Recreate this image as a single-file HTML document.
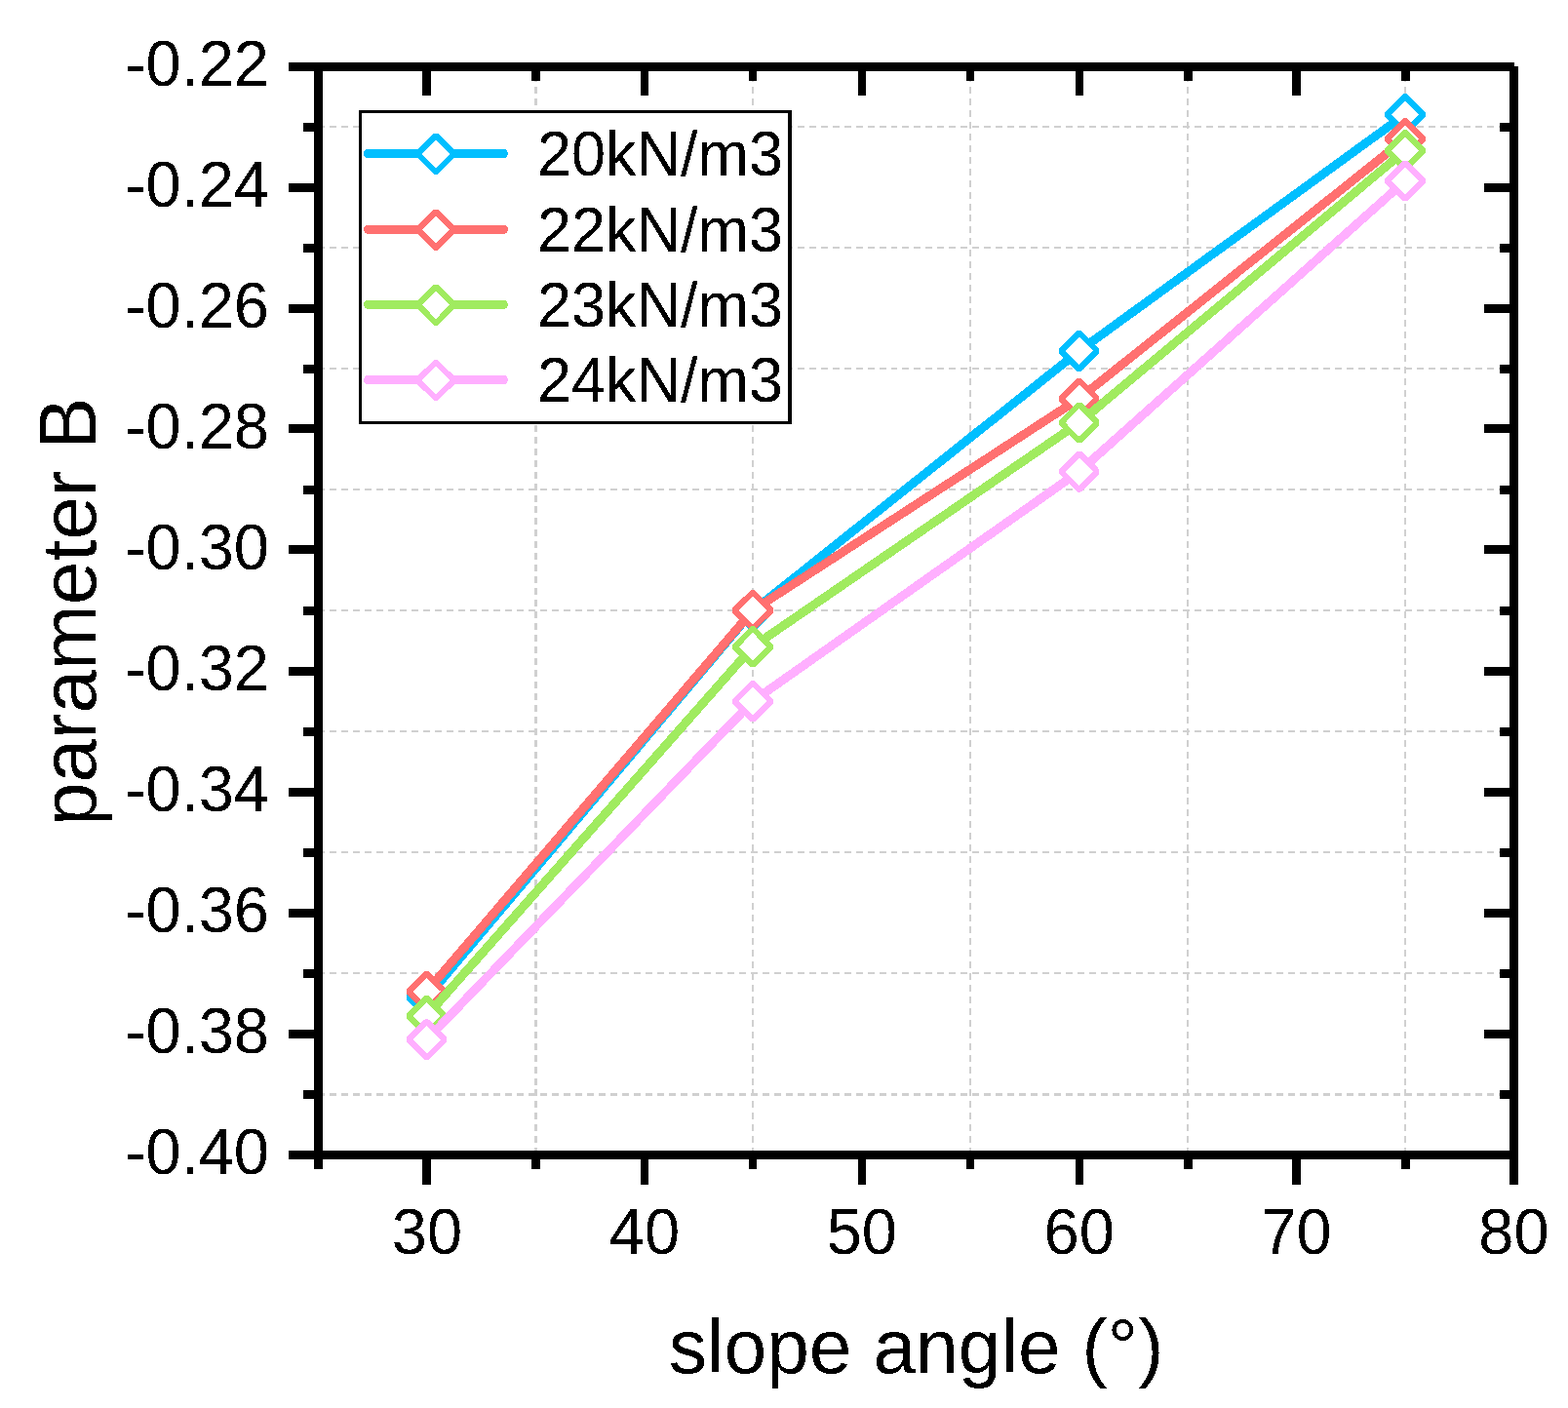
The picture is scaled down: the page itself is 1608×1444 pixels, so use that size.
<!DOCTYPE html><html><head><meta charset="utf-8"><style>html,body{margin:0;padding:0;background:#fff;}svg{display:block}</style></head><body>
<svg width="1608" height="1444" viewBox="0 0 1608 1444">
<rect width="1608" height="1444" fill="#fff"/>
<defs><filter id="bin" x="0" y="0" width="1608" height="1444" filterUnits="userSpaceOnUse" color-interpolation-filters="sRGB"><feComponentTransfer><feFuncA type="discrete" tableValues="0 1"/></feComponentTransfer></filter></defs>
<path d="M549.5 65V1184" stroke="#D0D0D0" stroke-width="3" stroke-dasharray="7 4.96" fill="none" shape-rendering="crispEdges"/>
<path d="M772 65V1184" stroke="#D0D0D0" stroke-width="2" stroke-dasharray="7 4.96" fill="none" shape-rendering="crispEdges"/>
<path d="M995 65V1184" stroke="#D0D0D0" stroke-width="2" stroke-dasharray="7 4.96" fill="none" shape-rendering="crispEdges"/>
<path d="M1218 65V1184" stroke="#D0D0D0" stroke-width="2" stroke-dasharray="7 4.96" fill="none" shape-rendering="crispEdges"/>
<path d="M1441 65V1184" stroke="#D0D0D0" stroke-width="2" stroke-dasharray="7 4.96" fill="none" shape-rendering="crispEdges"/>
<path d="M326 130H1552" stroke="#D0D0D0" stroke-width="2" stroke-dasharray="6.99 5" fill="none" shape-rendering="crispEdges"/>
<path d="M326 254H1552" stroke="#D0D0D0" stroke-width="2" stroke-dasharray="6.99 5" fill="none" shape-rendering="crispEdges"/>
<path d="M326 378H1552" stroke="#D0D0D0" stroke-width="2" stroke-dasharray="6.99 5" fill="none" shape-rendering="crispEdges"/>
<path d="M326 502H1552" stroke="#D0D0D0" stroke-width="2" stroke-dasharray="6.99 5" fill="none" shape-rendering="crispEdges"/>
<path d="M326 626H1552" stroke="#D0D0D0" stroke-width="2" stroke-dasharray="6.99 5" fill="none" shape-rendering="crispEdges"/>
<path d="M326 750H1552" stroke="#D0D0D0" stroke-width="2" stroke-dasharray="6.99 5" fill="none" shape-rendering="crispEdges"/>
<path d="M326 874H1552" stroke="#D0D0D0" stroke-width="2" stroke-dasharray="6.99 5" fill="none" shape-rendering="crispEdges"/>
<path d="M326 998H1552" stroke="#D0D0D0" stroke-width="2" stroke-dasharray="6.99 5" fill="none" shape-rendering="crispEdges"/>
<path d="M326 1122.5H1552" stroke="#D0D0D0" stroke-width="3" stroke-dasharray="6.99 5" fill="none" shape-rendering="crispEdges"/>
<g filter="url(#bin)"><path d="M437.6 1023.2 L772.0 626.5 L1106.7 359.9 L1441.0 117.4" stroke="#00BFFF" stroke-width="9" fill="none" stroke-linejoin="round" stroke-linecap="round"/></g>
<path d="M437.6 1004.6L456.2 1023.2L437.6 1041.8L419.0 1023.2Z M772.0 607.9L790.6 626.5L772.0 645.1L753.4 626.5Z M1106.7 341.3L1125.3 359.9L1106.7 378.5L1088.1 359.9Z M1441.0 98.8L1459.6 117.4L1441.0 136.0L1422.4 117.4Z" fill="#fff"/>
<g filter="url(#bin)"><path d="M437.6 1004.6L456.2 1023.2L437.6 1041.8L419.0 1023.2Z M772.0 607.9L790.6 626.5L772.0 645.1L753.4 626.5Z M1106.7 341.3L1125.3 359.9L1106.7 378.5L1088.1 359.9Z M1441.0 98.8L1459.6 117.4L1441.0 136.0L1422.4 117.4Z" stroke="#00BFFF" stroke-width="6.2" fill="none" stroke-linejoin="bevel"/></g>
<g filter="url(#bin)"><path d="M437.6 1016.8 L772.0 626.0 L1106.7 408.8 L1441.0 142.3" stroke="#FF7070" stroke-width="9" fill="none" stroke-linejoin="round" stroke-linecap="round"/></g>
<path d="M437.6 998.2L456.2 1016.8L437.6 1035.4L419.0 1016.8Z M772.0 607.4L790.6 626.0L772.0 644.6L753.4 626.0Z M1106.7 390.2L1125.3 408.8L1106.7 427.4L1088.1 408.8Z M1441.0 123.7L1459.6 142.3L1441.0 160.9L1422.4 142.3Z" fill="#fff"/>
<g filter="url(#bin)"><path d="M437.6 998.2L456.2 1016.8L437.6 1035.4L419.0 1016.8Z M772.0 607.4L790.6 626.0L772.0 644.6L753.4 626.0Z M1106.7 390.2L1125.3 408.8L1106.7 427.4L1088.1 408.8Z M1441.0 123.7L1459.6 142.3L1441.0 160.9L1422.4 142.3Z" stroke="#FF7070" stroke-width="6.2" fill="none" stroke-linejoin="bevel"/></g>
<g filter="url(#bin)"><path d="M437.6 1041.8 L772.0 663.2 L1106.7 433.5 L1441.0 154.4" stroke="#A0EB5F" stroke-width="9" fill="none" stroke-linejoin="round" stroke-linecap="round"/></g>
<path d="M437.6 1023.2L456.2 1041.8L437.6 1060.4L419.0 1041.8Z M772.0 644.6L790.6 663.2L772.0 681.8L753.4 663.2Z M1106.7 414.9L1125.3 433.5L1106.7 452.1L1088.1 433.5Z M1441.0 135.8L1459.6 154.4L1441.0 173.0L1422.4 154.4Z" fill="#fff"/>
<g filter="url(#bin)"><path d="M437.6 1023.2L456.2 1041.8L437.6 1060.4L419.0 1041.8Z M772.0 644.6L790.6 663.2L772.0 681.8L753.4 663.2Z M1106.7 414.9L1125.3 433.5L1106.7 452.1L1088.1 433.5Z M1441.0 135.8L1459.6 154.4L1441.0 173.0L1422.4 154.4Z" stroke="#A0EB5F" stroke-width="6.2" fill="none" stroke-linejoin="bevel"/></g>
<g filter="url(#bin)"><path d="M437.6 1066.3 L772.0 719.1 L1106.7 483.6 L1441.0 185.5" stroke="#FFAFFF" stroke-width="9" fill="none" stroke-linejoin="round" stroke-linecap="round"/></g>
<path d="M437.6 1047.7L456.2 1066.3L437.6 1084.9L419.0 1066.3Z M772.0 700.5L790.6 719.1L772.0 737.7L753.4 719.1Z M1106.7 465.0L1125.3 483.6L1106.7 502.2L1088.1 483.6Z M1441.0 166.9L1459.6 185.5L1441.0 204.1L1422.4 185.5Z" fill="#fff"/>
<g filter="url(#bin)"><path d="M437.6 1047.7L456.2 1066.3L437.6 1084.9L419.0 1066.3Z M772.0 700.5L790.6 719.1L772.0 737.7L753.4 719.1Z M1106.7 465.0L1125.3 483.6L1106.7 502.2L1088.1 483.6Z M1441.0 166.9L1459.6 185.5L1441.0 204.1L1422.4 185.5Z" stroke="#FFAFFF" stroke-width="6.2" fill="none" stroke-linejoin="bevel"/></g>
<g fill="#000">
<rect x="296" y="64" width="1257" height="9"/>
<rect x="296" y="1180" width="1257" height="9"/>
<rect x="322" y="64" width="9" height="1125"/>
<rect x="1548" y="68" width="9" height="1121"/>
<rect x="322" y="1189" width="9" height="10"/>
<rect x="322" y="73" width="9" height="10"/>
<rect x="433" y="1189" width="9" height="26"/>
<rect x="433" y="73" width="9" height="25"/>
<rect x="545" y="1189" width="9" height="10"/>
<rect x="545" y="73" width="9" height="10"/>
<rect x="657" y="1189" width="8" height="26"/>
<rect x="657" y="73" width="8" height="25"/>
<rect x="768" y="1189" width="8" height="10"/>
<rect x="768" y="73" width="8" height="10"/>
<rect x="880" y="1189" width="8" height="26"/>
<rect x="880" y="73" width="8" height="25"/>
<rect x="991" y="1189" width="8" height="10"/>
<rect x="991" y="73" width="8" height="10"/>
<rect x="1103" y="1189" width="8" height="26"/>
<rect x="1103" y="73" width="8" height="25"/>
<rect x="1214" y="1189" width="9" height="10"/>
<rect x="1214" y="73" width="9" height="10"/>
<rect x="1325" y="1189" width="9" height="26"/>
<rect x="1325" y="73" width="9" height="25"/>
<rect x="1437" y="1189" width="9" height="10"/>
<rect x="1437" y="73" width="9" height="10"/>
<rect x="1548" y="1189" width="9" height="26"/>
<rect x="1548" y="73" width="9" height="25"/>
<rect x="296" y="64" width="26" height="9"/>
<rect x="1522" y="64" width="26" height="9"/>
<rect x="311" y="126" width="11" height="9"/>
<rect x="1538" y="126" width="10" height="9"/>
<rect x="296" y="188" width="26" height="9"/>
<rect x="1522" y="188" width="26" height="9"/>
<rect x="311" y="250" width="11" height="9"/>
<rect x="1538" y="250" width="10" height="9"/>
<rect x="296" y="312" width="26" height="9"/>
<rect x="1522" y="312" width="26" height="9"/>
<rect x="311" y="374" width="11" height="9"/>
<rect x="1538" y="374" width="10" height="9"/>
<rect x="296" y="435" width="26" height="9"/>
<rect x="1522" y="435" width="26" height="9"/>
<rect x="311" y="498" width="11" height="9"/>
<rect x="1538" y="498" width="10" height="9"/>
<rect x="296" y="559" width="26" height="9"/>
<rect x="1522" y="559" width="26" height="9"/>
<rect x="311" y="622" width="11" height="9"/>
<rect x="1538" y="622" width="10" height="9"/>
<rect x="296" y="684" width="26" height="9"/>
<rect x="1522" y="684" width="26" height="9"/>
<rect x="311" y="746" width="11" height="9"/>
<rect x="1538" y="746" width="10" height="9"/>
<rect x="296" y="808" width="26" height="9"/>
<rect x="1522" y="808" width="26" height="9"/>
<rect x="311" y="870" width="11" height="9"/>
<rect x="1538" y="870" width="10" height="9"/>
<rect x="296" y="932" width="26" height="9"/>
<rect x="1522" y="932" width="26" height="9"/>
<rect x="311" y="994" width="11" height="9"/>
<rect x="1538" y="994" width="10" height="9"/>
<rect x="296" y="1056" width="26" height="9"/>
<rect x="1522" y="1056" width="26" height="9"/>
<rect x="311" y="1118" width="11" height="9"/>
<rect x="1538" y="1118" width="10" height="9"/>
<rect x="296" y="1180" width="26" height="9"/>
<rect x="1522" y="1180" width="26" height="9"/>
</g>
<g style="font-family:'Liberation Sans',Arial,sans-serif;font-size:65px" fill="#000" filter="url(#bin)">
<text x="276" y="0" transform="translate(0 87.8) scale(1 1.035)" text-anchor="end">-0.22</text>
<text x="276" y="0" transform="translate(0 211.8) scale(1 1.035)" text-anchor="end">-0.24</text>
<text x="276" y="0" transform="translate(0 335.8) scale(1 1.035)" text-anchor="end">-0.26</text>
<text x="276" y="0" transform="translate(0 459.8) scale(1 1.035)" text-anchor="end">-0.28</text>
<text x="276" y="0" transform="translate(0 583.8) scale(1 1.035)" text-anchor="end">-0.30</text>
<text x="276" y="0" transform="translate(0 707.8) scale(1 1.035)" text-anchor="end">-0.32</text>
<text x="276" y="0" transform="translate(0 831.8) scale(1 1.035)" text-anchor="end">-0.34</text>
<text x="276" y="0" transform="translate(0 955.8) scale(1 1.035)" text-anchor="end">-0.36</text>
<text x="276" y="0" transform="translate(0 1079.8) scale(1 1.035)" text-anchor="end">-0.38</text>
<text x="276" y="0" transform="translate(0 1203.8) scale(1 1.035)" text-anchor="end">-0.40</text>
<text x="438.0" y="0" transform="translate(0 1286) scale(1 1.035)" text-anchor="middle">30</text>
<text x="660.9" y="0" transform="translate(0 1286) scale(1 1.035)" text-anchor="middle">40</text>
<text x="883.8" y="0" transform="translate(0 1286) scale(1 1.035)" text-anchor="middle">50</text>
<text x="1106.7" y="0" transform="translate(0 1286) scale(1 1.035)" text-anchor="middle">60</text>
<text x="1329.6" y="0" transform="translate(0 1286) scale(1 1.035)" text-anchor="middle">70</text>
<text x="1552.5" y="0" transform="translate(0 1286) scale(1 1.035)" text-anchor="middle">80</text>
</g>
<g filter="url(#bin)">
<text x="939.5" y="1408" text-anchor="middle" style="font-family:'Liberation Sans',Arial,sans-serif;font-size:78.6px">slope angle (°)</text>
<text transform="translate(98 627) rotate(-90)" x="-220.1" y="0" style="font-family:'Liberation Sans',Arial,sans-serif;font-size:80px">parameter </text>
<text transform="translate(98 627) rotate(-90) scale(1 1.04)" x="165.9" y="0" style="font-family:'Liberation Sans',Arial,sans-serif;font-size:80px">B</text>
</g>
<rect x="368" y="113" width="444" height="322" fill="#fff"/>
<path d="M368 113H812V435H368Z M371 116V432H808V116Z" fill="#000" fill-rule="evenodd"/>
<g filter="url(#bin)"><path d="M377.5 157.5H516.5" stroke="#00BFFF" stroke-width="9" stroke-linecap="round"/></g>
<path d="M447.0 139.3L465.6 157.9L447.0 176.5L428.4 157.9Z" fill="#fff"/>
<g filter="url(#bin)"><path d="M447.0 139.3L465.6 157.9L447.0 176.5L428.4 157.9Z" stroke="#00BFFF" stroke-width="6.2" fill="none" stroke-linejoin="bevel"/></g>
<g filter="url(#bin)"><text x="551" y="0" transform="translate(0 180.1) scale(1 1.035)" style="font-family:'Liberation Sans',Arial,sans-serif;font-size:63px">20kN/m3</text></g>
<g filter="url(#bin)"><path d="M377.5 235.2H516.5" stroke="#FF7070" stroke-width="9" stroke-linecap="round"/></g>
<path d="M447.0 217.0L465.6 235.6L447.0 254.2L428.4 235.6Z" fill="#fff"/>
<g filter="url(#bin)"><path d="M447.0 217.0L465.6 235.6L447.0 254.2L428.4 235.6Z" stroke="#FF7070" stroke-width="6.2" fill="none" stroke-linejoin="bevel"/></g>
<g filter="url(#bin)"><text x="551" y="0" transform="translate(0 257.8) scale(1 1.035)" style="font-family:'Liberation Sans',Arial,sans-serif;font-size:63px">22kN/m3</text></g>
<g filter="url(#bin)"><path d="M377.5 312.4H516.5" stroke="#A0EB5F" stroke-width="9" stroke-linecap="round"/></g>
<path d="M447.0 294.2L465.6 312.8L447.0 331.4L428.4 312.8Z" fill="#fff"/>
<g filter="url(#bin)"><path d="M447.0 294.2L465.6 312.8L447.0 331.4L428.4 312.8Z" stroke="#A0EB5F" stroke-width="6.2" fill="none" stroke-linejoin="bevel"/></g>
<g filter="url(#bin)"><text x="551" y="0" transform="translate(0 335.0) scale(1 1.035)" style="font-family:'Liberation Sans',Arial,sans-serif;font-size:63px">23kN/m3</text></g>
<g filter="url(#bin)"><path d="M377.5 389.6H516.5" stroke="#FFAFFF" stroke-width="9" stroke-linecap="round"/></g>
<path d="M447.0 371.4L465.6 390.0L447.0 408.6L428.4 390.0Z" fill="#fff"/>
<g filter="url(#bin)"><path d="M447.0 371.4L465.6 390.0L447.0 408.6L428.4 390.0Z" stroke="#FFAFFF" stroke-width="6.2" fill="none" stroke-linejoin="bevel"/></g>
<g filter="url(#bin)"><text x="551" y="0" transform="translate(0 412.2) scale(1 1.035)" style="font-family:'Liberation Sans',Arial,sans-serif;font-size:63px">24kN/m3</text></g>
</svg></body></html>
